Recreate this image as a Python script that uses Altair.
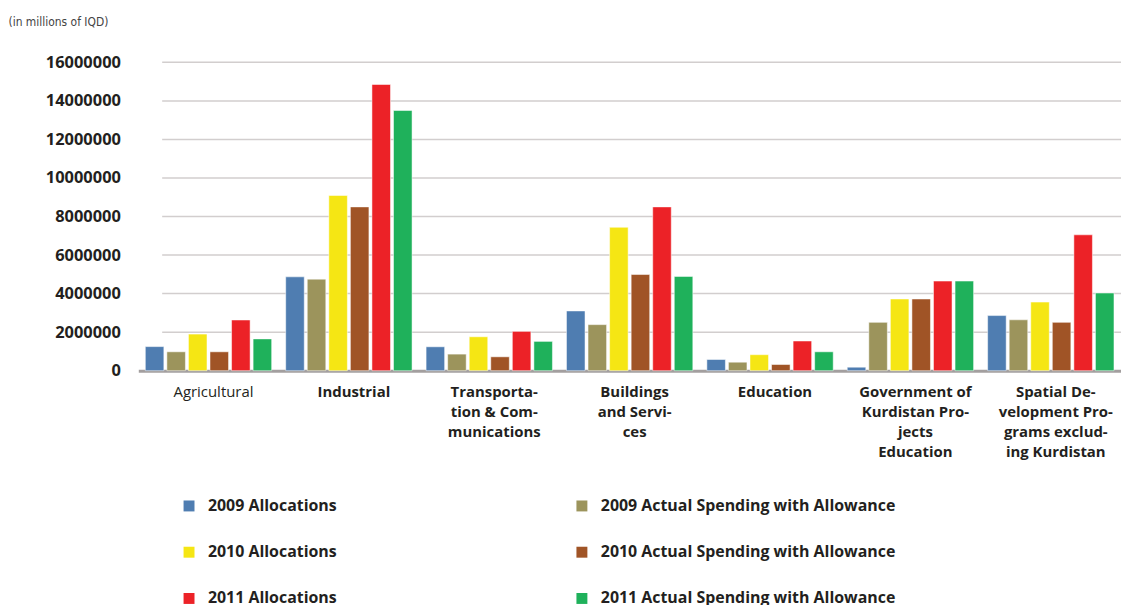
import altair as alt
import pandas as pd

categories = [
    "Agricultural",
    "Industrial",
    "Transporta-|tion & Com-|munications",
    "Buildings|and Servi-|ces",
    "Education",
    "Government of|Kurdistan Pro-|jects|Education",
    "Spatial De-|velopment Pro-|grams exclud-|ing Kurdistan",
]
series = [
    "2009 Allocations",
    "2009 Actual Spending with Allowance",
    "2010 Allocations",
    "2010 Actual Spending with Allowance",
    "2011 Allocations",
    "2011 Actual Spending with Allowance",
]
colors = ["#4f7db1", "#9c945c", "#f5e614", "#a05426", "#ec2227", "#1fb15b"]

alloc_2009 = [1250000, 4870000, 1240000, 3100000, 580000, 180000, 2860000]
actual_2009 = [980000, 4750000, 860000, 2390000, 440000, 2510000, 2640000]
alloc_2010 = [1900000, 9090000, 1760000, 7440000, 830000, 3720000, 3560000]
actual_2010 = [980000, 8500000, 720000, 4990000, 320000, 3720000, 2510000]
alloc_2011 = [2630000, 14850000, 2040000, 8500000, 1540000, 4650000, 7050000]
actual_2011 = [1650000, 13500000, 1520000, 4890000, 980000, 4650000, 4030000]

tick_values = [0, 2000000, 4000000, 6000000, 8000000, 10000000, 12000000, 14000000, 16000000]

rows = []
for s, vals in zip(series, [alloc_2009, actual_2009, alloc_2010, actual_2010, alloc_2011, actual_2011]):
    for c, v in zip(categories, vals):
        rows.append({"category": c, "series": s, "value": v})
df = pd.DataFrame(rows)
grid_df = pd.DataFrame({"tick": tick_values[1:]})

# legend is filled column by column: allocations in column 1, actual spending in column 2
legend_order = [series[0], series[2], series[4], series[1], series[3], series[5]]
legend_colors = [colors[0], colors[2], colors[4], colors[1], colors[3], colors[5]]

W, H = 988, 310
FONT = "Open Sans"
yscale = alt.Scale(domain=[0, 16000000])

y_axis = alt.Axis(
    title="(in millions of IQD)",
    titleAngle=0,
    titleX=-131,
    titleY=-41,
    titleAlign="left",
    titleBaseline="middle",
    titleFont="DejaVu Sans Condensed, Liberation Sans, sans-serif",
    titleFontSize=12,
    titleFontWeight="normal",
    titleColor="#444444",
    values=tick_values,
    format="d",
    grid=False,
    domain=False,
    ticks=False,
    labelPadding=18,
    labelFont=FONT,
    labelFontSize=16.5,
    labelFontWeight="bold",
    labelColor="#231f20",
)

grid = alt.Chart(grid_df).mark_rule(color="#d2cece", strokeWidth=1.5).encode(
    y=alt.Y("tick:Q", scale=yscale, axis=y_axis),
    x=alt.value(24),
    x2=alt.value(W),
)

bars = alt.Chart(df).mark_bar(stroke="white", strokeWidth=1, strokeOpacity=0.5).encode(
    x=alt.X(
        "category:N",
        sort=categories,
        scale=alt.Scale(paddingInner=0.1, paddingOuter=0.05),
        axis=alt.Axis(
            title=None,
            labelAngle=0,
            labelExpr="split(datum.label, '|')",
            labelFont=FONT,
            labelFontSize=15,
            labelFontWeight={"condition": {"test": "datum.value === 'Agricultural'", "value": "normal"}, "value": "bold"},
            labelColor="#231f20",
            labelPadding=14,
            labelOffset=5,
            labelLineHeight=20,
            labelLimit=300,
            domainColor="#a39f9f",
            domainWidth=3,
            ticks=False,
        ),
    ),
    xOffset=alt.XOffset("series:N", sort=series, scale=alt.Scale(paddingInner=0.14)),
    y=alt.Y("value:Q", scale=yscale, axis=y_axis),
    color=alt.Color(
        "series:N",
        scale=alt.Scale(domain=legend_order, range=legend_colors),
        legend=alt.Legend(
            title=None,
            orient="none",
            legendX=43,
            legendY=438,
            columns=2,
            columnPadding=238,
            rowPadding=30.5,
            gridAlign="each",
            symbolType="square",
            symbolSize=121,
            symbolStrokeWidth=0,
            labelFont=FONT,
            labelFontSize=16,
            labelFontWeight="bold",
            labelColor="#231f20",
            labelLimit=400,
            labelOffset=11,
        ),
    ),
)

chart = alt.layer(grid, bars).properties(
    width=W,
    height=H,
    autosize=alt.AutoSizeParams(type="none"),
    padding={"left": 131, "top": 53, "right": 0, "bottom": 245},
).configure_view(stroke=None)

chart.save("out.html", embed_options={"renderer": "svg", "actions": False})
